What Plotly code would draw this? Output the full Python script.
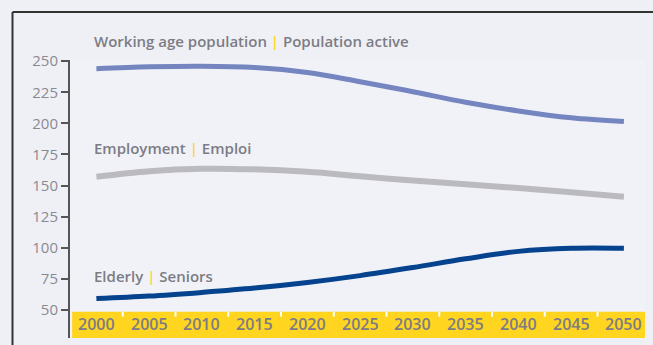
import plotly.graph_objects as go

years = [2000, 2005, 2010, 2015, 2020, 2025, 2030, 2035, 2040, 2045, 2050]
working_age = [244, 245.5, 246, 245, 241, 233.5, 225.5, 217, 210, 204.5, 201.5]
employment = [157, 161.5, 163.5, 163, 161, 157.5, 154, 151, 148, 144.5, 141]
elderly = [59, 61, 64, 67.5, 72, 77.5, 84, 91, 97, 99.5, 99.5]
y_ticks = [50, 75, 100, 125, 150, 175, 200, 225, 250]
year_labels = [str(y) for y in years]

series = [
    ("Working age population", "Population active", working_age, "#7485c0", 5, 266),
    ("Employment", "Emploi", employment, "#bbbbbf", 6, 180),
    ("Elderly", "Seniors", elderly, "#05438f", 5, 77),
]

YEL = "#ffd520"
TXT = "#7c7c84"
FONT = "Open Sans"

fig = go.Figure()
for en, fr, vals, col, w, _ in series:
    fig.add_trace(go.Scatter(x=years, y=vals, mode="lines",
                             line=dict(color=col, width=w, shape="spline", smoothing=1.0),
                             hoverinfo="skip", showlegend=False))

xmin, xmax = 1997.5, 2052.0
ymin, ymax = 27.3, 251.0

def ypaper(v):
    return (v - ymin) / (ymax - ymin)

shapes = []
shapes.append(dict(type="rect", xref="x", yref="y", x0=1997.7, x1=xmax, y0=ymin, y1=48.4,
                   fillcolor=YEL, line=dict(width=0), layer="below"))
for i in range(len(years) - 1):
    xm = (years[i] + years[i + 1]) / 2
    shapes.append(dict(type="line", xref="x", yref="y", x0=xm, x1=xm, y0=48.4, y1=44.5,
                       line=dict(color="white", width=2)))
shapes.append(dict(type="line", xref="paper", yref="paper", x0=-0.1, x1=-0.1, y0=-0.05, y1=1.173,
                   line=dict(color="#333333", width=2)))
shapes.append(dict(type="line", xref="paper", yref="paper", x0=-0.1, x1=1.05, y0=1.173, y1=1.173,
                   line=dict(color="#333333", width=2)))

annotations = []
for y, lab in zip(years, year_labels):
    annotations.append(dict(x=y, y=ypaper(38.5), xref="x", yref="paper", text=lab, showarrow=False,
                            font=dict(family=FONT, size=16, color=TXT, weight=600),
                            xanchor="center", yanchor="middle"))
for en, fr, vals, col, w, ly in series:
    annotations.append(dict(x=1999.6, y=ypaper(ly), xref="x", yref="paper",
                            text=f"{en} <span style='color:{YEL}'>|</span> {fr}",
                            showarrow=False, xanchor="left", yanchor="middle",
                            font=dict(family=FONT, size=15, color=TXT, weight=600)))

fig.update_layout(
    width=653, height=345,
    margin=dict(l=70, r=8, t=60, b=7),
    paper_bgcolor="#eff0f6", plot_bgcolor="#f1f2f8",
    shapes=shapes, annotations=annotations,
    xaxis=dict(range=[xmin, xmax], visible=False, fixedrange=True),
    yaxis=dict(range=[ymin, ymax], tickvals=y_ticks, ticks="outside", ticklen=7,
               tickwidth=2, tickcolor="#555555", showline=True, linecolor="#555555",
               linewidth=2, showgrid=False, zeroline=False,
               tickfont=dict(family=FONT, size=15, color="#8a8a90")),
)

fig.write_html("out.html")
